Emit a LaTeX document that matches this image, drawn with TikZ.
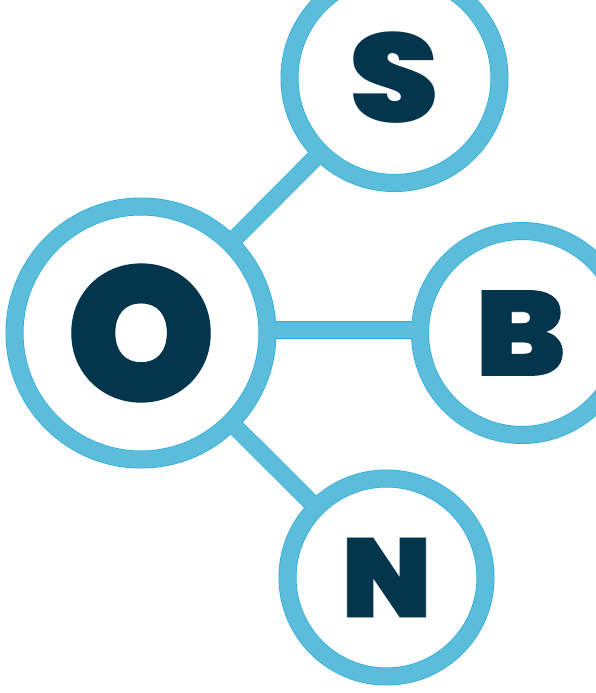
\documentclass[tikz,border=0pt]{standalone}
\usepackage{fontspec}
\newfontfamily\logofont[FakeBold=0.6]{Poppins Black}
\newfontfamily\logofontS{Poppins Black}
\definecolor{ringfill}{HTML}{5BBDDA}
\definecolor{ringedge}{HTML}{29ABE2}
\definecolor{letterblue}{HTML}{03354D}
\tikzset{
	ring/.style={circle, draw=ringedge, double=ringfill, double distance=16.6pt, line width=.7pt, fill=white, inner sep=0pt, outer sep=0pt, text=letterblue},
	link/.style={draw=ringedge, double=ringfill, double distance=16pt, line width=.7pt, shorten <=8pt, shorten >=8pt},
	linkcore/.style={draw=ringfill, line width=16pt}
}
\newcommand{\logosize}[1]{\fontsize{#1}{#1}\selectfont\logofont}
\newcommand{\logosizeS}[1]{\fontsize{#1}{#1}\selectfont\logofontS}
\begin{document}
\begin{tikzpicture}[x=1pt,y=-1pt]
	\useasboundingbox (0,0) rectangle (596,693);

%draw rings
	\node[ring, minimum size=253pt, font=\logosize{190}] (nodeO) at (141,333) {O};
	\node[ring, minimum size=210pt, font=\logosizeS{126}] (nodeS) at (394.5,78) {\scalebox{1.14}[1]{S}};
	\node[ring, minimum size=204pt, font=\logosize{120}] (nodeB) at (522,333) {\scalebox{1.1}[1]{B}\hspace*{3pt}};
	\node[ring, minimum size=198pt, font=\logosize{112}] (nodeN) at (386.5,577.5) {\scalebox{1.03}[1]{N}};

%draw links
	\draw[link] (nodeO) -- (nodeS);
	\draw[link] ([yshift=3pt]nodeO.east) -- ([yshift=3pt]nodeB.west);
	\draw[link] (nodeO) -- (nodeN);
	\draw[linkcore] (nodeO) -- (nodeS);
	\draw[linkcore] ([yshift=3pt]nodeO.east) -- ([yshift=3pt]nodeB.west);
	\draw[linkcore] (nodeO) -- (nodeN);
\end{tikzpicture}
\end{document}
